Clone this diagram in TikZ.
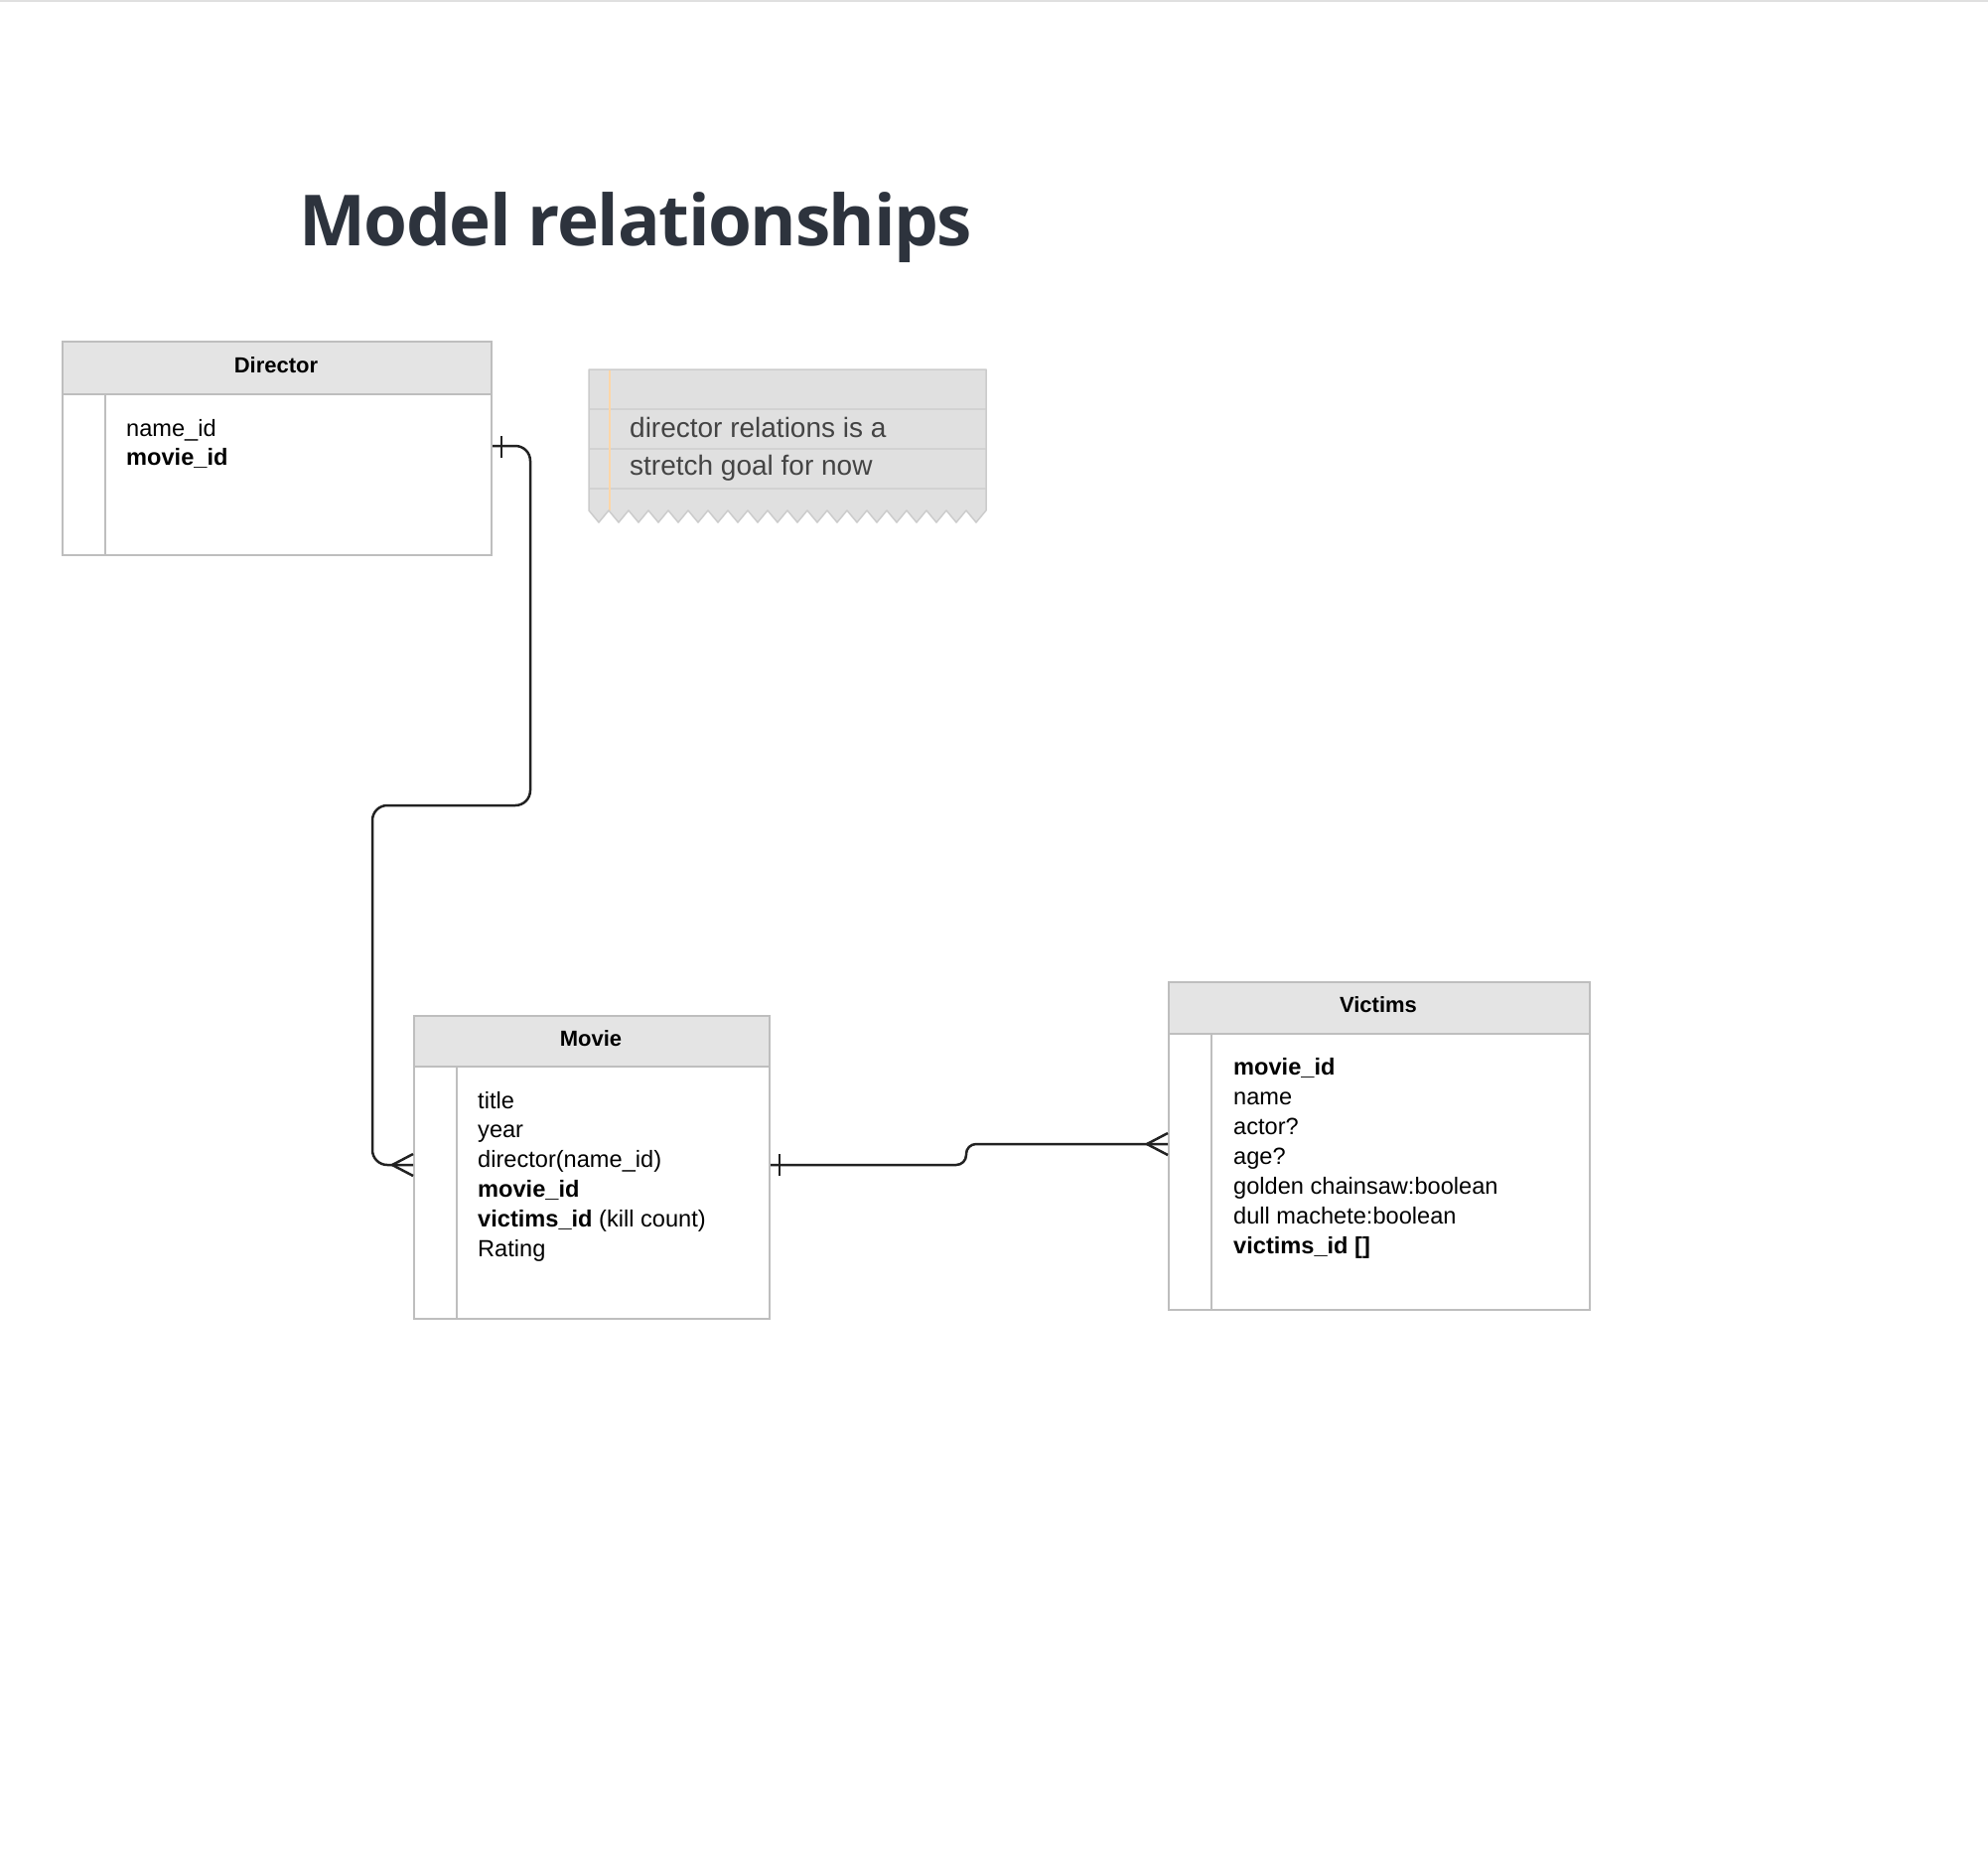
\documentclass[tikz,border=0pt]{standalone}
\usepackage{fontspec}
\setmainfont{Liberation Sans}
\newfontfamily\titlefont[LetterSpace=-2.0]{Open Sans}
\definecolor{bordergray}{RGB}{190,190,190}
\definecolor{headfill}{RGB}{228,228,228}
\definecolor{notefill}{RGB}{224,224,224}
\definecolor{noteborder}{RGB}{204,204,204}
\definecolor{noterule}{RGB}{210,210,210}
\definecolor{noteorange}{RGB}{252,214,168}
\definecolor{notetext}{RGB}{68,68,68}
\definecolor{titlecol}{RGB}{45,51,61}
\definecolor{conncol}{RGB}{34,34,34}
\tikzset{
  tblbox/.style={draw=bordergray, line width=2pt, fill=white, inner sep=0pt, anchor=north west},
  headbox/.style={draw=bordergray, line width=2pt, fill=headfill, inner sep=0pt, anchor=north west},
  headtxt/.style={inner sep=0pt, anchor=base, font=\fontsize{22}{26}\selectfont\bfseries},
  divider/.style={draw=bordergray, line width=2pt},
  fieldtxt/.style={inner sep=0pt, anchor=base west, font=\fontsize{23.6}{30}\selectfont},
  conn/.style={draw=conncol, line width=2.5pt},
  notetxt/.style={inner sep=0pt, anchor=base west, text=notetext, font=\fontsize{28}{38}\selectfont}
}
\begin{document}
\begin{tikzpicture}[x=1pt,y=-1pt]
\useasboundingbox[fill=white] (0,0) rectangle (2002,1882);
\draw[line width=1.5pt, draw=black!12] (0,1) -- (2002,1);

% title
\node[inner sep=0pt, anchor=base west, text=titlecol, font=\titlefont\bfseries\fontsize{71}{80}\selectfont] (title) at (301,247) {Model relationships};

% Director table
\node[tblbox, minimum width=432pt, minimum height=215pt] (director) at (62,343) {};
\node[headbox, minimum width=432pt, minimum height=53pt] (directorhead) at (62,343) {};
\node[headtxt] (directortitle) at (278,375.5) {Director};
\draw[divider] (106,396) -- (106,558);
\node[fieldtxt] (d1) at (127,439) {name\_id};
\node[fieldtxt] (d2) at (127,468) {\textbf{movie\_id}};

% Movie table
\node[tblbox, minimum width=358pt, minimum height=305pt] (movie) at (416,1022) {};
\node[headbox, minimum width=358pt, minimum height=51pt] (moviehead) at (416,1022) {};
\node[headtxt] (movietitle) at (595,1053.5) {Movie};
\draw[divider] (460,1073) -- (460,1327);
\node[fieldtxt] (m1) at (481,1116) {title};
\node[fieldtxt] (m2) at (481,1145.9) {year};
\node[fieldtxt] (m3) at (481,1175.8) {director(name\_id)};
\node[fieldtxt] (m4) at (481,1205.7) {\textbf{movie\_id}};
\node[fieldtxt] (m5) at (481,1235.6) {\textbf{victims\_id} (kill count)};
\node[fieldtxt] (m6) at (481,1265.5) {Rating};

% Victims table
\node[tblbox, minimum width=424pt, minimum height=330pt] (victims) at (1176,988) {};
\node[headbox, minimum width=424pt, minimum height=52pt] (victimshead) at (1176,988) {};
\node[headtxt] (victimstitle) at (1388,1019.5) {Victims};
\draw[divider] (1220,1040) -- (1220,1318);
\node[fieldtxt] (v1) at (1242,1082) {\textbf{movie\_id}};
\node[fieldtxt] (v2) at (1242,1112) {name};
\node[fieldtxt] (v3) at (1242,1142) {actor?};
\node[fieldtxt] (v4) at (1242,1172) {age?};
\node[fieldtxt] (v5) at (1242,1202) {golden chainsaw:boolean};
\node[fieldtxt] (v6) at (1242,1232) {dull machete:boolean};
\node[fieldtxt] (v7) at (1242,1262) {\textbf{victims\_id []}};

% Note
\fill[notefill] (593,372) -- (993,372) -- (993,514)
  \foreach \i in {0,...,19} { -- ({993-20*\i-10},526) -- ({993-20*\i-20},514) } -- cycle;
\draw[noterule, line width=1.2pt] (593,412) -- (993,412) (593,452) -- (993,452) (593,492) -- (993,492);
\draw[noteorange, line width=1.2pt] (614,373) -- (614,514);
\draw[noteborder, line width=1.5pt, line join=round] (593,514) -- (593,372) -- (993,372) -- (993,514)
  \foreach \i in {0,...,19} { -- ({993-20*\i-10},526) -- ({993-20*\i-20},514) };
\node[notetxt] (n1) at (634,440) {director relations is a};
\node[notetxt] (n2) at (634,478) {stretch goal for now};

% Director -> Movie connector
\draw[conn, rounded corners=15pt] (director.east |- 0,449) -- (534,449) -- (534,811) -- (375,811) -- (375,1173) -- (movie.west |- 0,1173);
\draw[conn] (505,439) -- (505,461);
\draw[conn] (395,1173) -- (movie.west |- 0,1162);
\draw[conn] (395,1173) -- (movie.west |- 0,1184);

% Movie -> Victims connector
\draw[conn, rounded corners=10pt] (movie.east |- 0,1173) -- (973,1173) -- (973,1152) -- (victims.west |- 0,1152);
\draw[conn] (785,1162) -- (785,1184);
\draw[conn] (1155,1152) -- (victims.west |- 0,1141);
\draw[conn] (1155,1152) -- (victims.west |- 0,1163);
\end{tikzpicture}
\end{document}
